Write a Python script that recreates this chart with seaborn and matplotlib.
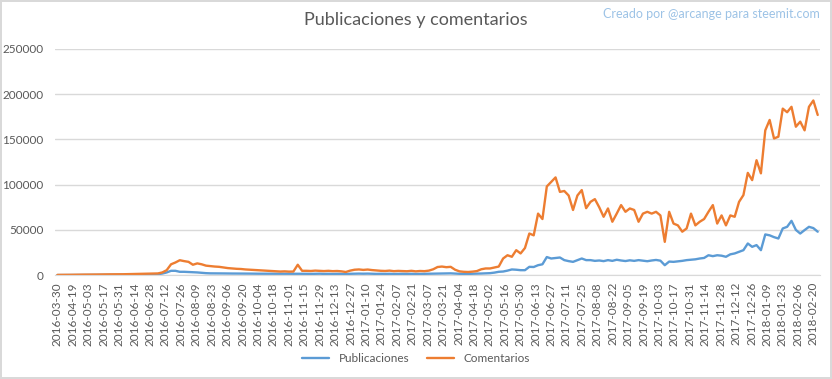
import numpy as np
import pandas as pd
import matplotlib
matplotlib.use("Agg")
import matplotlib.pyplot as plt
import seaborn as sns

# the chart's x axis is a category axis (one slot per day row);
# one reading taken about every 4 rows
n_lecturas = 175
filas = np.arange(n_lecturas) * 690 / (n_lecturas - 1)

publicaciones = [
    100, 100, 150, 150, 200, 200, 250, 250, 300, 300,
    350, 350, 400, 400, 450, 450, 500, 500, 550, 600,
    650, 700, 800, 1000, 1800, 3000, 4800, 4800, 3700, 3700,
    3500, 3300, 3000, 2600, 2200, 2000, 2000, 1900, 1900, 1800,
    1800, 1800, 1700, 1700, 1700, 1600, 1600, 1600, 1600, 1500,
    1500, 1500, 1500, 1500, 1500, 1500, 1500, 1500, 1400, 1500,
    1600, 1400, 1500, 1300, 1500, 1400, 1200, 1500, 1600, 1700,
    1600, 1700, 1500, 1400, 1500, 1400, 1500, 1300, 1400, 1500,
    1400, 1500, 1300, 1400, 1500, 1500, 1700, 1900, 2000, 1900,
    2000, 1700, 1500, 1400, 1400, 1500, 1600, 1800, 2000, 2200,
    2800, 3700, 4000, 5000, 6300, 6000, 5500, 5500, 9200, 9000,
    11000, 12000, 20000, 18400, 19000, 19500, 16600, 15500, 14700, 16600,
    18400, 16600, 16600, 15800, 16200, 15500, 16600, 15800, 17000, 16200,
    15600, 16400, 15800, 16600, 16000, 15400, 16200, 16800, 16000, 11000,
    15000, 14700, 15200, 15800, 16600, 17000, 17500, 18400, 19000, 22000,
    21000, 22000, 21500, 20300, 23000, 24000, 25800, 27600, 35000, 31300,
    33200, 27600, 45000, 44000, 42000, 40500, 51600, 53400, 60000, 50000,
    46000, 49800, 53400, 52000, 48000,
]

comentarios = [
    300, 300, 400, 400, 500, 500, 600, 600, 700, 700,
    800, 800, 900, 900, 1000, 1000, 1100, 1100, 1200, 1300,
    1400, 1500, 1600, 1900, 3000, 5500, 12000, 14000, 16500, 15500,
    14700, 11500, 13000, 12000, 10500, 10000, 9500, 9200, 8500, 7800,
    7400, 7000, 6800, 6300, 6000, 5700, 5500, 5200, 4800, 4600,
    4300, 4000, 4200, 3900, 4000, 11500, 4800, 4800, 4600, 5000,
    4700, 4500, 4800, 4400, 4600, 4200, 3500, 5000, 6000, 6300,
    5800, 6200, 5600, 5200, 4800, 4600, 5000, 4400, 4700, 4500,
    4300, 4800, 4200, 4600, 4400, 5000, 6500, 9000, 9500, 8800,
    9200, 6000, 4200, 3700, 3500, 3900, 4500, 6500, 7400, 7400,
    8500, 9500, 18400, 22000, 20300, 27600, 24000, 30000, 46000, 44000,
    68000, 62000, 98000, 103000, 108000, 92000, 93000, 88000, 72000, 88000,
    94000, 74000, 81000, 84000, 75000, 64500, 73700, 59000, 68000, 77400,
    70000, 73700, 72000, 59000, 68000, 70000, 68000, 70000, 66000, 36800,
    70000, 57000, 55000, 48000, 51600, 68000, 55000, 59000, 62000, 70000,
    77400, 57000, 66000, 55000, 66000, 64500, 81000, 88500, 113000, 105000,
    127000, 112500, 160000, 171500, 151000, 153000, 184000, 180000, 186000, 164000,
    169600, 160000, 186000, 193000, 177000,
]

# tick labels: every 14th row of the sheet
etiquetas = ["2016-03-30"] + [d.strftime("%Y-%m-%d") for d in
                              pd.date_range("2016-04-19", "2018-02-20", freq="14D")]

sns.set_style("white")
plt.rcParams["font.family"] = ["Lato", "DejaVu Sans"]
gris = "#595959"

fig = plt.figure(figsize=(8.32, 3.79), dpi=100)
fig.patch.set_edgecolor("#d9d9d9")
fig.patch.set_linewidth(1.5)
ax = fig.add_axes([0.066, 0.274, 0.920, 0.597])

sns.lineplot(x=filas, y=publicaciones, color="#5B9BD5", linewidth=1.7,
             label="Publicaciones", ax=ax)
sns.lineplot(x=filas, y=comentarios, color="#ED7D31", linewidth=1.7,
             label="Comentarios", ax=ax)

ax.set_ylim(0, 250000)
ax.set_yticks(range(0, 250001, 50000))
ax.set_xlim(-2.3, 692.4)
ax.set_xticks(np.arange(len(etiquetas)) * 14)
ax.set_xticklabels(etiquetas, rotation=90)
ax.tick_params(axis="both", length=0, colors=gris, labelsize=8.5)
ax.tick_params(axis="y", pad=8)
ax.tick_params(axis="x", pad=5)
ax.yaxis.grid(True, color="#d9d9d9", linewidth=1)
for s in ["left", "right", "top"]:
    ax.spines[s].set_visible(False)
ax.spines["bottom"].set_color("#d9d9d9")
ax.set_xlabel("")
ax.set_ylabel("")

ax.legend_.remove()
h, l = ax.get_legend_handles_labels()
fig.legend(h, l, loc="center", bbox_to_anchor=(0.5, 0.055), ncol=2, frameon=False,
           fontsize=8.5, labelcolor=gris, handlelength=2.3, columnspacing=1.5)

fig.text(0.5, 1 - 20 / 379, "Publicaciones y comentarios", ha="center", va="center",
         fontsize=13, color=gris)
fig.text(0.985, 1 - 14 / 379, "Creado por @arcange para steemit.com", ha="right",
         va="center", fontsize=9, color="#9DC3E6")

fig.savefig("out.png", dpi=100)
